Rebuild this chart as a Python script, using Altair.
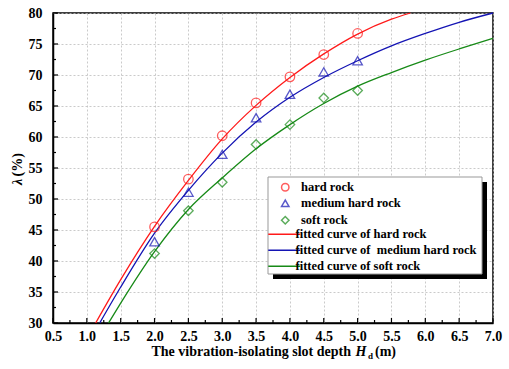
import altair as alt
import pandas as pd

# ---------------- data ----------------
depth_pts = [2.0, 2.5, 3.0, 3.5, 4.0, 4.5, 5.0]
hard_pts = [45.5, 53.2, 60.2, 65.5, 69.7, 73.3, 76.7]
medium_pts = [43.1, 51.1, 57.2, 63.1, 66.9, 70.5, 72.3]
soft_pts = [41.2, 48.1, 52.7, 58.8, 62.0, 66.3, 67.5]

hard_fit_x = [1.13, 1.5, 2.0, 2.5, 3.0, 3.5, 4.0, 4.5, 5.0, 5.5, 5.78]
hard_fit_y = [30.0, 37.0, 45.6, 53.0, 59.7, 65.1, 69.6, 73.4, 76.6, 79.0, 80.0]
medium_fit_x = [1.19, 1.5, 2.0, 2.5, 3.0, 3.5, 4.0, 4.5, 5.0, 5.5, 6.0, 6.5, 7.0]
medium_fit_y = [30.0, 35.8, 44.5, 51.4, 57.4, 62.4, 66.4, 69.6, 72.3, 74.7, 76.7, 78.5, 80.0]
soft_fit_x = [1.32, 1.5, 2.0, 2.5, 3.0, 3.5, 4.0, 4.5, 5.0, 5.5, 6.0, 6.5, 7.0]
soft_fit_y = [30.0, 33.2, 41.5, 48.3, 53.4, 58.1, 62.0, 65.4, 68.2, 70.4, 72.4, 74.2, 75.9]

series_names = ["hard rock", "medium hard rock", "soft rock"]
curve_names = ["fitted curve of hard rock", "fitted curve of \u00a0medium hard rock",
               "fitted curve of soft rock"]
x_major = [0.5 + 0.5 * i for i in range(14)]
x_minor = [0.75 + 0.5 * i for i in range(13)]
y_major = [30 + 5 * i for i in range(11)]
y_minor = [32.5 + 5 * i for i in range(10)]

# ---------------- tables ----------------
pts = pd.DataFrame(
    [{"x": x, "v": v, "s": series_names[0]} for x, v in zip(depth_pts, hard_pts)]
    + [{"x": x, "v": v, "s": series_names[1]} for x, v in zip(depth_pts, medium_pts)]
    + [{"x": x, "v": v, "s": series_names[2]} for x, v in zip(depth_pts, soft_pts)]
)
fits = pd.DataFrame(
    [{"x": x, "v": v, "c": curve_names[0]} for x, v in zip(hard_fit_x, hard_fit_y)]
    + [{"x": x, "v": v, "c": curve_names[1]} for x, v in zip(medium_fit_x, medium_fit_y)]
    + [{"x": x, "v": v, "c": curve_names[2]} for x, v in zip(soft_fit_x, soft_fit_y)]
)
xt_major = pd.DataFrame({"x": x_major})
xt_minor = pd.DataFrame({"x": x_minor})
yt_major = pd.DataFrame({"v": y_major})
yt_minor = pd.DataFrame({"v": y_minor})

RED, BLUE, GREEN = "#ff1a1a", "#1414b4", "#178a17"
FONT = "Liberation Serif"
W, H = 440, 310

x_scale = alt.Scale(domain=[0.5, 7.0], nice=False, zero=False)
y_scale = alt.Scale(domain=[30, 80], nice=False, zero=False)

x_axis = alt.Axis(
    values=x_major, title=None, labelOverlap=False, labelBound=False, labelFlush=False,
    format=".1f", ticks=False, labelPadding=6,
)
y_axis = alt.Axis(
    values=y_major, title=None, labelOverlap=False, labelBound=False, labelFlush=False,
    format="d", ticks=False, labelPadding=11,
)
X = alt.X("x:Q", scale=x_scale, axis=x_axis)
Y = alt.Y("v:Q", scale=y_scale, axis=y_axis)

lines = alt.Chart(fits).mark_line(strokeWidth=1.3, interpolate="monotone").encode(
    x=X, y=Y,
    color=alt.Color("c:N", scale=alt.Scale(domain=curve_names, range=[RED, BLUE, GREEN]),
                    legend=alt.Legend(
                        orient="none", legendX=225, legendY=215, title=None,
                        symbolType="M-4,0H4", symbolSize=64, symbolStrokeWidth=1.6,
                        labelOffset=5, rowPadding=3, padding=0,
                        labelFont=FONT, labelFontWeight="bold", labelFontSize=12.5,
                        labelColor="black", labelLimit=400)),
    detail="c:N",
)

points = alt.Chart(pts).mark_point(filled=False, size=90, strokeWidth=1.3).encode(
    x=X, y=Y,
    color=alt.Color("s:N", scale=alt.Scale(domain=series_names, range=[RED, BLUE, GREEN]),
                    legend=alt.Legend(
                        orient="none", legendX=226, legendY=168, title=None,
                        symbolSize=55, symbolStrokeWidth=1.5, symbolFillColor="transparent",
                        labelOffset=9.5, rowPadding=3, padding=0,
                        labelFont=FONT, labelFontWeight="bold", labelFontSize=12.5,
                        labelColor="black", labelLimit=400)),
    shape=alt.Shape("s:N", scale=alt.Scale(domain=series_names,
                                           range=["circle", "triangle-up", "diamond"]),
                    legend=None),
)

# inward axis ticks (major and minor)
tick_style = dict(color="black", strokeWidth=1.2)
xmaj = alt.Chart(xt_major).mark_rule(**tick_style).encode(
    x=X, y=alt.value(H), y2=alt.value(H - 5))
xmin = alt.Chart(xt_minor).mark_rule(**tick_style).encode(
    x=X, y=alt.value(H), y2=alt.value(H - 3))
ymaj = alt.Chart(yt_major).mark_rule(**tick_style).encode(
    y=Y, x=alt.value(0), x2=alt.value(5))
ymin = alt.Chart(yt_minor).mark_rule(**tick_style).encode(
    y=Y, x=alt.value(0), x2=alt.value(3))

one = alt.Data(values=[{}])
shadow = alt.Chart(one).mark_rect(color="black").encode(
    x=alt.value(220), x2=alt.value(434), y=alt.value(169), y2=alt.value(266))
box = alt.Chart(one).mark_rect(fill="white", stroke="#999999", strokeWidth=1).encode(
    x=alt.value(215), x2=alt.value(429), y=alt.value(164), y2=alt.value(261))

tstyle = dict(font=FONT, fontWeight="bold", fontSize=14, color="black", baseline="alphabetic")
xt1 = alt.Chart(one).mark_text(align="right", **tstyle).encode(
    x=alt.value(298), y=alt.value(H + 33), text=alt.value("The vibration-isolating slot depth"))
xt2 = alt.Chart(one).mark_text(align="left", fontStyle="italic", **tstyle).encode(
    x=alt.value(302.5), y=alt.value(H + 33), text=alt.value("H"))
xt3 = alt.Chart(one).mark_text(align="left", font=FONT, fontWeight="bold", fontSize=9,
                               color="black", baseline="alphabetic").encode(
    x=alt.value(315), y=alt.value(H + 36), text=alt.value("d"))
xt4 = alt.Chart(one).mark_text(align="left", **tstyle).encode(
    x=alt.value(322), y=alt.value(H + 33), text=alt.value("(m)"))

ystyle = dict(font=FONT, fontWeight="bold", fontSize=14, color="black", angle=270, baseline="middle")
yt1 = alt.Chart(one).mark_text(align="center", fontStyle="italic", **ystyle).encode(
    x=alt.value(-35), y=alt.value(169), text=alt.value("λ"))
yt2 = alt.Chart(one).mark_text(align="left", **ystyle).encode(
    x=alt.value(-35), y=alt.value(163.5), text=alt.value("(%)"))

chart = alt.layer(lines, points, xmaj, xmin, ymaj, ymin, shadow, box,
                  xt1, xt2, xt3, xt4, yt1, yt2).resolve_scale(
    color="independent", shape="independent"
).properties(
    width=W, height=H,
    autosize=alt.AutoSizeParams(type="none"),
    padding={"left": 53, "top": 13, "right": 16, "bottom": 46},
    background="white",
).configure_view(
    stroke="black", strokeWidth=1.5
).configure_axis(
    labelFont=FONT, labelFontWeight="bold", labelFontSize=14, labelColor="black",
    labelOverlap=False,
    domainColor="black", domainWidth=1.5,
    gridColor="#bdbdbd", gridDash=[2, 2], gridWidth=0.8,
)

chart.save("out.html", embed_options={"renderer": "svg", "actions": False})
